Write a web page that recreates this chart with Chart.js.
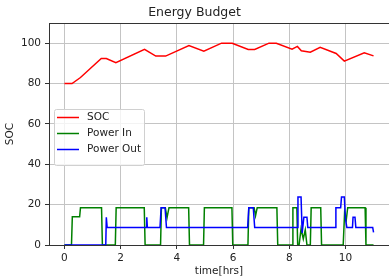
<!DOCTYPE html>
<html>
<head>
<meta charset="utf-8">
<script src="https://cdn.jsdelivr.net/npm/chart.js@4"></script>
<style>
	body { margin: 0; background: #fff; }
	#wrap { width: 389px; height: 278px; }
</style>
</head>
<body>
<div id="wrap"><canvas id="chart" width="389" height="278"></canvas></div>
<script>
// tick labels
const xTicks = [0, 2, 4, 6, 8, 10];
const yTicks = [0, 20, 40, 60, 80, 100];

// SOC (state of charge)
const socTime = [0, 0.27, 0.57, 1.31, 1.49, 1.83, 2.85, 3.25, 3.6, 4.43, 4.96, 5.59, 5.97, 6.54, 6.77, 7.28, 7.54, 8.1, 8.29, 8.43, 8.75, 9.1, 9.67, 9.96, 10.67, 11.0];
const socValues = [80, 80, 83, 92.4, 92.4, 90.3, 97, 93.6, 93.6, 98.8, 96, 100, 100, 96.9, 96.9, 100, 100, 97, 98.4, 96.2, 95.5, 98, 94.9, 91.1, 95.2, 93.7];

// Power In
const inTime = [0, 0.25, 0.28, 0.54, 0.57, 1.32, 1.35, 1.81, 1.84, 2.84, 2.87, 3.42, 3.45, 3.59, 3.65, 3.72, 4.42, 4.45, 4.95, 4.98, 5.96, 5.99, 6.53, 6.56, 6.75, 6.8, 6.86, 7.56, 7.59, 8.1, 8.13, 8.27, 8.3, 8.35, 8.42, 8.5, 8.57, 8.63, 8.75, 8.78, 9.12, 9.15, 9.92, 9.97, 10.03, 10.08, 10.7, 10.73, 11.0];
const inValues = [0, 0, 14, 14, 18.5, 18.5, 0, 0, 18.5, 18.5, 0, 0, 18.5, 18.5, 13.5, 18.5, 18.5, 0, 0, 18.5, 18.5, 0, 0, 18.5, 18.5, 14.5, 18.5, 18.5, 0, 0, 18.5, 18.5, 0, 0, 8, 3, 7.5, 0, 0, 18.5, 18.5, 0, 0, 16, 12.5, 18.5, 18.5, 0, 0];

// Power Out
const outTime = [0, 1.47, 1.49, 1.52, 2.91, 2.93, 2.95, 3.4, 3.44, 3.58, 3.63, 6.52, 6.56, 6.72, 6.77, 8.28, 8.31, 8.42, 8.46, 8.52, 8.63, 8.66, 9.63, 9.66, 9.83, 9.86, 9.96, 10.0, 10.05, 10.25, 10.27, 10.34, 10.37, 10.97, 11.0];
const outValues = [0, 0, 13.7, 8.7, 8.7, 13.7, 8.7, 8.7, 18.5, 18.5, 8.7, 8.7, 18.5, 18.5, 8.7, 8.7, 23.8, 23.8, 6, 13.7, 13.7, 8.7, 8.7, 18.5, 18.5, 23.8, 23.8, 13, 8.7, 8.7, 13.7, 13.7, 8.7, 8.7, 6.3];

const FONT = 'DejaVu Sans';

function points(xs, ys) {
	return xs.map((x, i) => ({ x: x, y: ys[i] }));
}

// legend drawn inside the plot, like matplotlib
const insideLegend = {
	id: 'insideLegend',
	afterDraw(chart) {
		const ctx = chart.ctx;
		const area = chart.chartArea;
		const left = area.left + 5, top = area.top + 86, w = 90, h = 56;
		ctx.save();
		ctx.fillStyle = 'rgba(255,255,255,0.8)';
		ctx.strokeStyle = '#d0d0d0';
		ctx.lineWidth = 1;
		ctx.beginPath();
		ctx.roundRect(left + 0.5, top + 0.5, w, h, 2);
		ctx.fill();
		ctx.stroke();
		ctx.font = '10.5px "' + FONT + '"';
		ctx.textBaseline = 'middle';
		chart.data.datasets.forEach((ds, i) => {
			const y = top + 8.5 + i * 16;
			ctx.strokeStyle = ds.borderColor;
			ctx.lineWidth = 1.5;
			ctx.beginPath();
			ctx.moveTo(left + 3, y);
			ctx.lineTo(left + 25, y);
			ctx.stroke();
			ctx.fillStyle = '#222';
			ctx.fillText(ds.label, left + 33, y);
		});
		ctx.restore();
	}
};

// top spine
const frame = {
	id: 'frame',
	afterDraw(chart) {
		const ctx = chart.ctx;
		const a = chart.chartArea;
		ctx.save();
		ctx.strokeStyle = '#333';
		ctx.lineWidth = 1;
		ctx.beginPath();
		ctx.moveTo(a.left, a.top + 0.5);
		ctx.lineTo(a.right, a.top + 0.5);
		ctx.stroke();
		ctx.restore();
	}
};

new Chart(document.getElementById('chart'), {
	type: 'line',
	data: {
		datasets: [
			{ label: 'SOC', data: points(socTime, socValues), borderColor: '#ff0000', order: 2 },
			{ label: 'Power In', data: points(inTime, inValues), borderColor: '#008000', order: 1 },
			{ label: 'Power Out', data: points(outTime, outValues), borderColor: '#0000ff', order: 0 }
		]
	},
	options: {
		responsive: false,
		animation: false,
		elements: {
			line: { borderWidth: 1.5, tension: 0, fill: false },
			point: { radius: 0 }
		},
		plugins: {
			legend: { display: false },
			tooltip: { enabled: false },
			title: {
				display: true,
				text: 'Energy Budget',
				color: '#222',
				font: { family: FONT, size: 12.5, weight: 'normal', lineHeight: 1.2 },
				padding: { top: 5.5, bottom: 2.5 }
			}
		},
		scales: {
			x: {
				type: 'linear',
				min: -0.55,
				max: 11.55,
				afterBuildTicks: (s) => { s.ticks = xTicks.map(v => ({ value: v })); },
				afterFit: (s) => { s.height = 33; },
				grid: { color: '#c4c4c4', tickColor: '#333', tickLength: 4 },
				border: { color: '#333' },
				ticks: { color: '#222', padding: 3, font: { family: FONT, size: 10.5 } },
				title: { display: true, text: 'time[hrs]', color: '#222', padding: { top: 0, bottom: 0 }, font: { family: FONT, size: 10.5 } }
			},
			y: {
				min: 0,
				max: 110,
				afterBuildTicks: (s) => { s.ticks = yTicks.map(v => ({ value: v })); },
				afterFit: (s) => { s.width = 49; },
				grid: { color: '#c4c4c4', tickColor: '#333', tickLength: 4 },
				border: { color: '#333' },
				ticks: { color: '#222', padding: 4, font: { family: FONT, size: 10.5 } },
				title: { display: true, text: 'SOC', color: '#222', padding: { top: 4, bottom: 0 }, font: { family: FONT, size: 10.5 } }
			}
		}
	},
	plugins: [insideLegend, frame]
});
</script>
</body>
</html>
